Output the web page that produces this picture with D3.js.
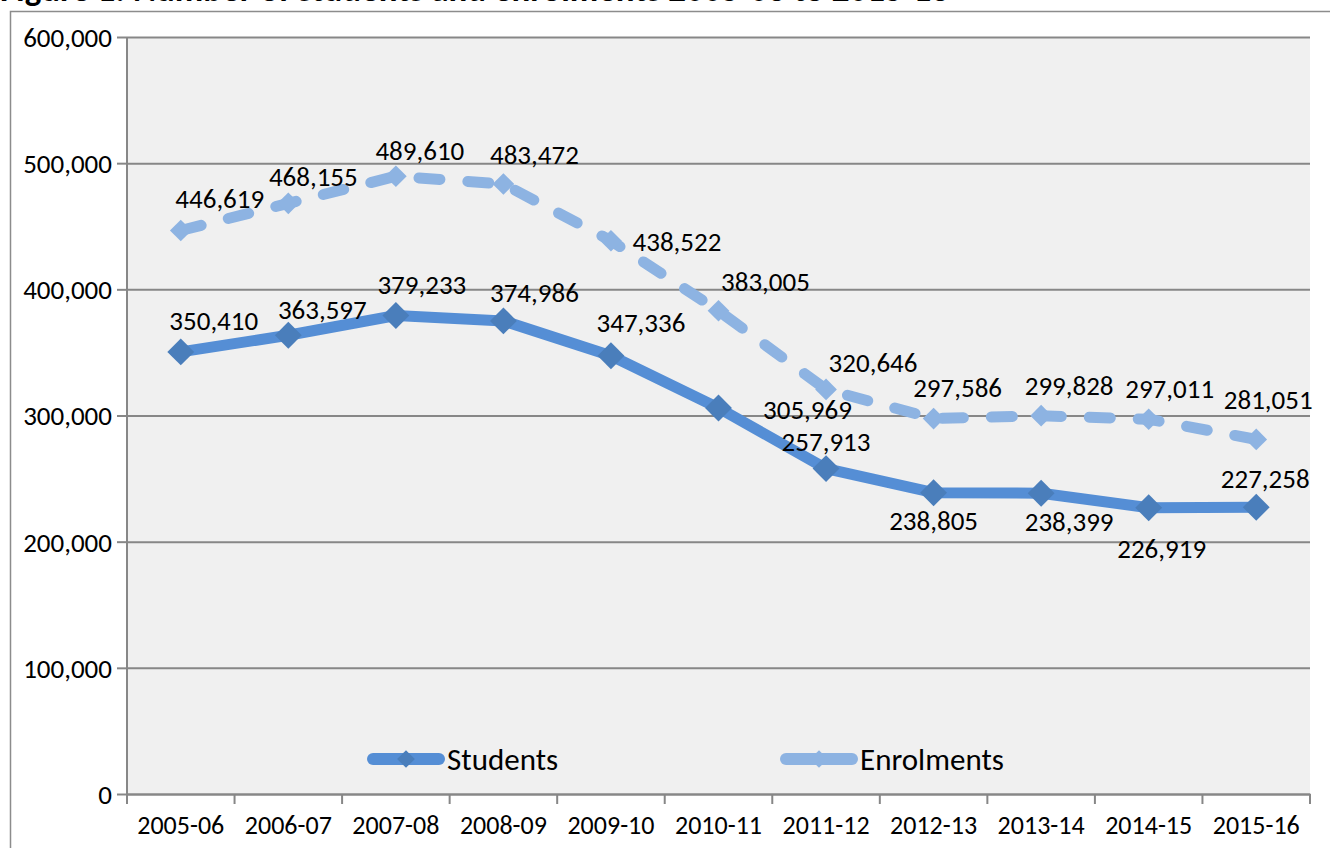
<!DOCTYPE html>
<html>
<head>
<meta charset="utf-8">
<script src="https://cdn.jsdelivr.net/npm/d3@7"></script>
<style>
  body { margin: 0; background: #fff; }
  text { font-family: Calibri, Carlito, Lato, sans-serif; }
</style>
</head>
<body>
<div id="chart"></div>
<script>
// Chart data
var years = ["2005-06", "2006-07", "2007-08", "2008-09", "2009-10", "2010-11",
             "2011-12", "2012-13", "2013-14", "2014-15", "2015-16"];
var students = [350410, 363597, 379233, 374986, 347336, 305969,
                257913, 238805, 238399, 226919, 227258];
var enrolments = [446619, 468155, 489610, 483472, 438522, 383005,
                  320646, 297586, 299828, 297011, 281051];
var yTicks = [0, 100000, 200000, 300000, 400000, 500000, 600000];
var seriesNames = ["Students", "Enrolments"];

// Label offsets from each point (label centre), as placed in the original
var studentLabelOffsets = [[33, -31], [34, -26], [26, -31], [31, -28], [30, -33], [89, 2],
                           [0, -27], [0, 28], [28, 28], [13, 41], [9, -29]];
var enrolLabelOffsets = [[39, -32], [25, -27], [24, -26], [31, -29], [66, 1], [47, -29],
                         [47, -27], [24, -31], [28, -30], [21, -31], [12, -40]];

// SVG area
var svgWidth = 1330;
var svgHeight = 848;
var plot = { left: 127, right: 1310, top: 37, bottom: 794 };
var labelSize = 27;

var svg = d3.select("#chart")
  .append("svg")
  .attr("width", svgWidth)
  .attr("height", svgHeight);

// Title (cut off at the top, as in the source)
svg.append("text")
  .attr("x", 0)
  .attr("y", 1)
  .attr("font-size", 35)
  .attr("font-weight", "bold")
  .text("Figure 1: Number of students and enrolments 2005-06 to 2015-16");

// Outer chart border
svg.append("rect")
  .attr("x", 10.5)
  .attr("y", 11.5)
  .attr("width", svgWidth)
  .attr("height", svgHeight)
  .attr("fill", "none")
  .attr("stroke", "#8c8c8c")
  .attr("stroke-width", 1.5);

// Scales
var x = d3.scaleBand().domain(years).range([plot.left, plot.right]).padding(0);
var y = d3.scaleLinear().domain([0, 600000]).range([plot.bottom, plot.top]);
var cx = d => x(d) + x.bandwidth() / 2;

// Plot background
svg.append("rect")
  .attr("x", plot.left)
  .attr("y", plot.top)
  .attr("width", plot.right - plot.left)
  .attr("height", plot.bottom - plot.top)
  .attr("fill", "#f0f0f0");

// Gridlines
svg.append("g")
  .attr("transform", `translate(${plot.left},0)`)
  .call(d3.axisLeft(y).tickValues(yTicks).tickSize(-(plot.right - plot.left)).tickFormat(""))
  .call(g => g.select(".domain").remove())
  .call(g => g.selectAll("line").attr("stroke", "#878787").attr("stroke-width", 2));

// Y axis
var yAxis = svg.append("g")
  .attr("transform", `translate(${plot.left},0)`)
  .call(d3.axisLeft(y).tickValues(yTicks).tickSize(10).tickPadding(5).tickFormat(d3.format(",")));
yAxis.select(".domain").attr("stroke", "#878787").attr("stroke-width", 2).attr("d", `M0,${plot.top}V${plot.bottom}`);
yAxis.selectAll("line").attr("stroke", "#878787").attr("stroke-width", 2);
yAxis.selectAll("text").attr("font-size", labelSize).attr("fill", "#000").attr("dy", "0.35em");

// X axis labels
var xAxis = svg.append("g")
  .attr("transform", `translate(0,${plot.bottom})`)
  .call(d3.axisBottom(x).tickSize(0).tickPadding(22));
xAxis.select(".domain").attr("stroke", "#878787").attr("stroke-width", 2);
xAxis.selectAll("text").attr("font-size", labelSize - 1).attr("fill", "#000");

// X ticks sit between categories
var boundaries = years.map(d => x(d)).concat([plot.right]);
svg.append("g")
  .selectAll("line")
  .data(boundaries)
  .enter()
  .append("line")
  .attr("x1", d => d).attr("x2", d => d)
  .attr("y1", plot.bottom).attr("y2", plot.bottom + 10)
  .attr("stroke", "#878787")
  .attr("stroke-width", 2);

var line = d3.line()
  .x((d, i) => cx(years[i]))
  .y(d => y(d));

var diamond = d3.symbol().type(d3.symbolDiamond2);

// Enrolments (dashed)
svg.append("path")
  .datum(enrolments)
  .attr("d", line)
  .attr("fill", "none")
  .attr("stroke", "#8db3e2")
  .attr("stroke-width", 11)
  .attr("stroke-linecap", "round")
  .attr("stroke-dasharray", "21,28");

svg.append("g")
  .selectAll("path")
  .data(enrolments)
  .enter()
  .append("path")
  .attr("d", diamond.size(300))
  .attr("transform", (d, i) => `translate(${cx(years[i])},${y(d)})`)
  .attr("fill", "#8db3e2");

// Students (solid)
svg.append("path")
  .datum(students)
  .attr("d", line)
  .attr("fill", "none")
  .attr("stroke", "#558ed5")
  .attr("stroke-width", 11)
  .attr("stroke-linejoin", "round");

svg.append("g")
  .selectAll("path")
  .data(students)
  .enter()
  .append("path")
  .attr("d", diamond.size(460))
  .attr("transform", (d, i) => `translate(${cx(years[i])},${y(d)})`)
  .attr("fill", "#4a7ebb");

// Data labels
function addLabels(values, offsets) {
  svg.append("g")
    .selectAll("text")
    .data(values)
    .enter()
    .append("text")
    .attr("x", (d, i) => cx(years[i]) + offsets[i][0])
    .attr("y", (d, i) => y(d) + offsets[i][1])
    .attr("dy", "0.35em")
    .attr("text-anchor", "middle")
    .attr("font-size", labelSize)
    .text(d => d3.format(",")(d));
}
addLabels(enrolments, enrolLabelOffsets);
addLabels(students, studentLabelOffsets);

// Legend
var legend = svg.append("g");
var legendItems = [
  { name: seriesNames[0], x: 367, color: "#558ed5", marker: "#4a7ebb" },
  { name: seriesNames[1], x: 780, color: "#8db3e2", marker: "#8db3e2" }
];
legendItems.forEach(item => {
  legend.append("line")
    .attr("x1", item.x + 6).attr("x2", item.x + 72)
    .attr("y1", 759).attr("y2", 759)
    .attr("stroke", item.color)
    .attr("stroke-width", 12)
    .attr("stroke-linecap", "round");
  legend.append("path")
    .attr("d", diamond.size(200))
    .attr("transform", `translate(${item.x + 39},759)`)
    .attr("fill", item.marker);
  legend.append("text")
    .attr("x", item.x + 80)
    .attr("y", 759)
    .attr("dy", "0.35em")
    .attr("font-size", 31)
    .text(item.name);
});
</script>
</body>
</html>
